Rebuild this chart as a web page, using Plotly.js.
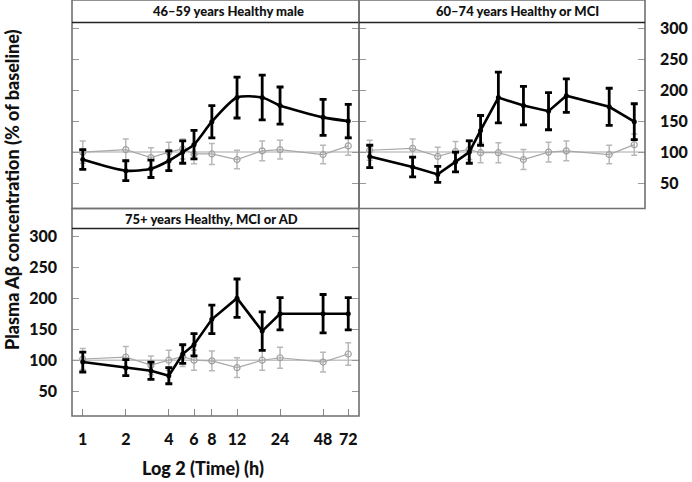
<!DOCTYPE html>
<html>
<head>
<meta charset="utf-8">
<script src="https://cdn.plot.ly/plotly-3.0.1.min.js"></script>
<style>html,body{margin:0;padding:0;background:#fff;}#chart{width:692px;height:482px;}</style>
</head>
<body>
<div id="chart"></div>
<script>
// ---- data ----
const times = [1, 2, 3, 4, 5, 6, 8, 12, 18, 24, 48, 72];
const tickTimes = [1, 2, 4, 6, 8, 12, 24, 48, 72];
const tickTimeLabels = ['1', '2', '4', '6', '8', '12', '24', '48', '72'];
const yTicks = [50, 100, 150, 200, 250, 300];

const panelTitles = ['46–59 years Healthy male', '60–74 years Healthy or MCI', '75+ years Healthy, MCI or AD'];

const p1Abeta = [88, 70, 73, 86, 100, 112, 149, 188, 188, 175, 156, 150];
const p1AbetaErr = [16, 16, 14, 16, 18, 23, 26, 33, 36, 30, 29, 27];
const p1Placebo = [100, 104, 91, 100, 105, 97, 97, 88, 102, 104, 96, 110];
const p1PlaceboErr = [18, 17, 16, 16, 16, 16, 17, 15, 16, 15, 15, 15];

const p2Abeta = [93, 76, 64, 84, 100, 135, 188, 175, 166, 191, 173, 149];
const p2AbetaErr = [18, 16, 13, 16, 18, 24, 41, 31, 30, 27, 30, 29];
const p2Placebo = [103, 106, 93, 101, 104, 99, 99, 88, 100, 102, 96, 112];
const p2PlaceboErr = [16, 15, 15, 16, 16, 16, 16, 16, 16, 16, 15, 17];

const p3Abeta = [97, 88, 83, 75, 110, 125, 166, 200, 147, 175, 175, 175];
const p3AbetaErr = [16, 13, 14, 13, 15, 18, 23, 31, 31, 26, 31, 26];
const p3Placebo = [102, 105, 92, 100, 106, 100, 99, 88, 100, 104, 97, 110];
const p3PlaceboErr = [17, 17, 15, 16, 16, 16, 16, 16, 16, 17, 16, 18];

const baseline = 100;

// ---- helpers ----
const FONT = 'Lato, "Open Sans", sans-serif';
const W = 900;
function placeboTrace(y, err, xa, ya) {
  return {
    x: times, y: y, xaxis: xa, yaxis: ya, type: 'scatter', mode: 'lines+markers',
    line: {color: '#a8a8a8', width: 1.2},
    marker: {symbol: 'circle-open', size: 6, color: '#a0a0a0', line: {width: 1.2}},
    error_y: {type: 'data', array: err, visible: true, color: '#b8b8b8', thickness: 1.5, width: 3},
    showlegend: false, hoverinfo: 'x+y'
  };
}
function abetaTrace(y, err, xa, ya, smooth) {
  return {
    x: times, y: y, xaxis: xa, yaxis: ya, type: 'scatter', mode: 'lines+markers',
    line: smooth ? {color: '#000', width: 2.6, shape: 'spline', smoothing: 0.7} : {color: '#000', width: 2.6},
    marker: {symbol: 'circle', size: 5, color: '#000'},
    error_y: {type: 'data', array: err, visible: true, color: '#000', thickness: 2.8, width: 3.5},
    showlegend: false, hoverinfo: 'x+y'
  };
}

const data = [
  placeboTrace(p1Placebo, p1PlaceboErr, 'x', 'y'),
  abetaTrace(p1Abeta, p1AbetaErr, 'x', 'y', true),
  placeboTrace(p2Placebo, p2PlaceboErr, 'x2', 'y2'),
  abetaTrace(p2Abeta, p2AbetaErr, 'x2', 'y2', false),
  placeboTrace(p3Placebo, p3PlaceboErr, 'x3', 'y3'),
  abetaTrace(p3Abeta, p3AbetaErr, 'x3', 'y3', false)
];

// ---- layout geometry (paper fractions) ----
const colSplit = 0.5009;
const rowSplit = 0.4988;
const strip1Bottom = 0.9459;
const strip2Bottom = 0.4507;
const xRange = [-0.0753, 1.9326];

function xAxis(domain, showLabels, anchor) {
  return {
    type: 'log', domain: domain, range: xRange, anchor: anchor,
    tickvals: tickTimes, ticktext: tickTimeLabels,
    showticklabels: showLabels, ticks: showLabels ? 'inside' : '', ticklen: 7, tickwidth: 1, tickcolor: '#888',
    showgrid: false, zeroline: false, showline: false,
    ticklabelstandoff: 12,
    tickfont: {family: FONT, size: 16, color: '#111', weight: W}
  };
}
function yAxis(domain, range, side, showLabels, anchor) {
  return {
    domain: domain, range: range, anchor: anchor, side: side,
    tickvals: yTicks, showticklabels: showLabels,
    ticks: 'inside', ticklen: 7, tickwidth: 1, tickcolor: '#999', mirror: 'ticks',
    showgrid: false, zeroline: false, showline: false,
    ticklabelstandoff: 14,
    tickfont: {family: FONT, size: 16, color: '#111', weight: W}
  };
}

const shapes = [];
['x', 'x2', 'x3'].forEach((xa, i) => {
  const ya = ['y', 'y2', 'y3'][i];
  shapes.push({type: 'line', xref: xa + ' domain', yref: ya, x0: 0, x1: 1, y0: baseline, y1: baseline,
    line: {color: '#c4c4c4', width: 1.5}, layer: 'below'});
});
const panels = [
  {x0: 0, x1: colSplit, y0: rowSplit, y1: 1, s: strip1Bottom},
  {x0: colSplit, x1: 1, y0: rowSplit, y1: 1, s: strip1Bottom},
  {x0: 0, x1: colSplit, y0: 0, y1: rowSplit, s: strip2Bottom}
];
panels.forEach(p => {
  shapes.push({type: 'rect', xref: 'paper', yref: 'paper', x0: p.x0, x1: p.x1, y0: p.y0, y1: p.y1,
    line: {color: '#707070', width: 1.6}});
  shapes.push({type: 'line', xref: 'paper', yref: 'paper', x0: p.x0, x1: p.x1, y0: p.s, y1: p.s,
    line: {color: '#222', width: 1.4}});
});

const annotations = [
  {text: panelTitles[0], xref: 'paper', yref: 'paper', x: (228 - 72) / 573, y: (1 + strip1Bottom) / 2,
   showarrow: false, xanchor: 'center', yanchor: 'middle', font: {family: FONT, size: 13, color: '#111', weight: W}},
  {text: panelTitles[1], xref: 'paper', yref: 'paper', x: (517 - 72) / 573, y: (1 + strip1Bottom) / 2,
   showarrow: false, xanchor: 'center', yanchor: 'middle', font: {family: FONT, size: 13, color: '#111', weight: W}},
  {text: panelTitles[2], xref: 'paper', yref: 'paper', x: (211 - 72) / 573, y: (rowSplit + strip2Bottom) / 2,
   showarrow: false, xanchor: 'center', yanchor: 'middle', font: {family: FONT, size: 13, color: '#111', weight: W}},
  {text: 'Plasma Aβ concentration (% of baseline)', xref: 'paper', yref: 'paper', x: (12 - 72) / 573, y: (416 - 190) / 416,
   showarrow: false, textangle: -90, xanchor: 'center', yanchor: 'middle',
   font: {family: FONT, size: 18, color: '#111', weight: W}},
  {text: 'Log 2 (Time) (h)', xref: 'paper', yref: 'paper', x: (203 - 72) / 573, y: (416 - 468) / 416,
   showarrow: false, xanchor: 'center', yanchor: 'middle',
   font: {family: FONT, size: 18, color: '#111', weight: W}}
];

const layout = {
  width: 692, height: 482,
  margin: {l: 72, r: 47, t: 0, b: 66},
  paper_bgcolor: '#fff', plot_bgcolor: '#fff',
  font: {family: FONT, color: '#111'},
  showlegend: false,
  xaxis: xAxis([0, colSplit], false, 'y'),
  yaxis: yAxis([rowSplit, strip1Bottom], [9, 309], 'left', false, 'x'),
  xaxis2: xAxis([colSplit, 1], false, 'y2'),
  yaxis2: yAxis([rowSplit, strip1Bottom], [9, 309], 'right', true, 'x2'),
  xaxis3: xAxis([0, colSplit], true, 'y3'),
  yaxis3: yAxis([0, strip2Bottom], [10, 312.5], 'left', true, 'x3'),
  shapes: shapes,
  annotations: annotations
};

Plotly.newPlot('chart', data, layout, {displayModeBar: false, staticPlot: true});
</script>
</body>
</html>
